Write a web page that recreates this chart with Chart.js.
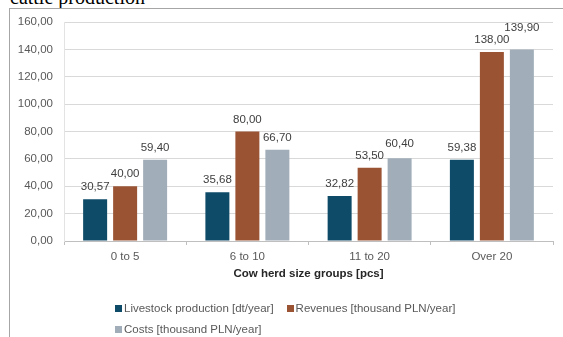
<!DOCTYPE html>
<html>
<head>
<meta charset="utf-8">
<script src="https://cdn.jsdelivr.net/npm/chart.js@4/dist/chart.umd.min.js"></script>
<style>
    html, body { margin: 0; padding: 0; background: #fff; overflow: hidden; }
    #wrap { position: relative; width: 563px; height: 337px; overflow: hidden; }
    #caption {
        position: absolute; left: 10px; top: -13px;
        font: 20px "Liberation Serif", "Times New Roman", serif; line-height: 1; color: #000;
        white-space: nowrap;
    }
    #frame {
        position: absolute; left: 9px; top: 8px; width: 600px; height: 400px;
        border: 1px solid #a6a6a6; box-sizing: border-box;
    }
    #chart { position: absolute; left: 0; top: 0; }
    #legend {
        position: absolute; left: 115px; top: 301px; width: 360px;
        display: flex; flex-wrap: wrap; column-gap: 13px; row-gap: 7px;
        font: 11.5px "Liberation Sans", Arial, sans-serif; color: #595959;
    }
    .item { display: flex; align-items: center; height: 14px; white-space: nowrap; }
    .box { width: 7px; height: 7px; margin-right: 2px; }
</style>
</head>
<body>
<div id="wrap">
    <div id="caption">cattle production</div>
    <div id="frame"></div>
    <canvas id="chart" width="563" height="337"></canvas>
    <div id="legend"></div>
</div>
<script>
// Chart data
const categories = ["0 to 5", "6 to 10", "11 to 20", "Over 20"];
const livestock = [30.57, 35.68, 32.82, 59.38];
const revenues = [40.00, 80.00, 53.50, 138.00];
const costs = [59.40, 66.70, 60.40, 139.90];
const seriesNames = [
    "Livestock production [dt/year]",
    "Revenues [thousand PLN/year]",
    "Costs [thousand PLN/year]"
];
const seriesColors = ["#0e4b68", "#9a5434", "#a1aeba"];
const yTicks = [0, 20, 40, 60, 80, 100, 120, 140, 160];

const FONT = '"Liberation Sans", Arial, sans-serif';

// Polish style number: 30,57
function fmt(v) {
    return v.toFixed(2).replace('.', ',');
}

// Draw value labels above bars, nudging up any that collide
const valueLabels = {
    id: 'valueLabels',
    afterDatasetsDraw(chart) {
        const ctx = chart.ctx;
        const placed = [];
        ctx.save();
        ctx.font = '11.5px ' + FONT;
        ctx.fillStyle = '#404040';
        ctx.textAlign = 'center';
        ctx.textBaseline = 'middle';
        const h = 12;
        // draw group by group so neighbours within a group are compared in order
        for (let i = 0; i < categories.length; i++) {
            chart.data.datasets.forEach((ds, di) => {
                const bar = chart.getDatasetMeta(di).data[i];
                const text = fmt(ds.data[i]);
                const w = ctx.measureText(text).width + 2;
                let x = bar.x;
                let y = bar.y - 12;
                let moved = true;
                while (moved) {
                    moved = false;
                    for (const p of placed) {
                        const overlapX = Math.abs(p.x - x) < (p.w + w) / 2;
                        const overlapY = Math.abs(p.y - y) < h;
                        if (overlapX && overlapY) {
                            y = p.y - h;
                            moved = true;
                        }
                    }
                }
                placed.push({ x, y, w });
                ctx.fillText(text, x, y);
            });
        }
        ctx.restore();
    }
};

const datasets = [livestock, revenues, costs].map((values, i) => ({
    label: seriesNames[i],
    data: values,
    backgroundColor: seriesColors[i],
    borderWidth: 0,
    categoryPercentage: 0.736,
    barPercentage: 0.8
}));

const chart = new Chart(document.getElementById('chart'), {
    type: 'bar',
    data: { labels: categories, datasets: datasets },
    options: {
        responsive: false,
        animation: false,
        events: [],
        layout: { padding: { left: 10, right: 10, top: 22, bottom: 56 } },
        plugins: {
            legend: { display: false },
            tooltip: { enabled: false }
        },
        scales: {
            x: {
                afterFit: scale => { scale.height = 40; },
                grid: {
                    offset: true,
                    drawOnChartArea: false,
                    drawTicks: true,
                    tickLength: 4,
                    color: '#bfbfbf'
                },
                border: { color: '#bfbfbf' },
                ticks: {
                    color: '#595959',
                    padding: 5,
                    font: { family: FONT, size: 11.5 }
                },
                title: {
                    display: true,
                    text: 'Cow herd size groups [pcs]',
                    color: '#262626',
                    padding: 0,
                    font: { family: FONT, size: 11.5, weight: 'bold' }
                }
            },
            y: {
                min: yTicks[0],
                max: yTicks[yTicks.length - 1],
                afterFit: scale => { scale.width = 54; },
                afterBuildTicks: scale => {
                    scale.ticks = yTicks.map(v => ({ value: v }));
                },
                grid: {
                    color: '#d9d9d9',
                    drawTicks: false
                },
                border: { display: true, color: '#e3e3e3' },
                ticks: {
                    color: '#595959',
                    padding: 11,
                    font: { family: FONT, size: 11.5 },
                    callback: v => fmt(v)
                }
            }
        }
    },
    plugins: [valueLabels]
});

// HTML legend, left aligned like the original
const legend = document.getElementById('legend');
chart.data.datasets.forEach(ds => {
    const item = document.createElement('div');
    item.className = 'item';
    item.innerHTML = `<span class="box" style="background:${ds.backgroundColor}"></span><span>${ds.label}</span>`;
    legend.appendChild(item);
});
</script>
</body>
</html>
